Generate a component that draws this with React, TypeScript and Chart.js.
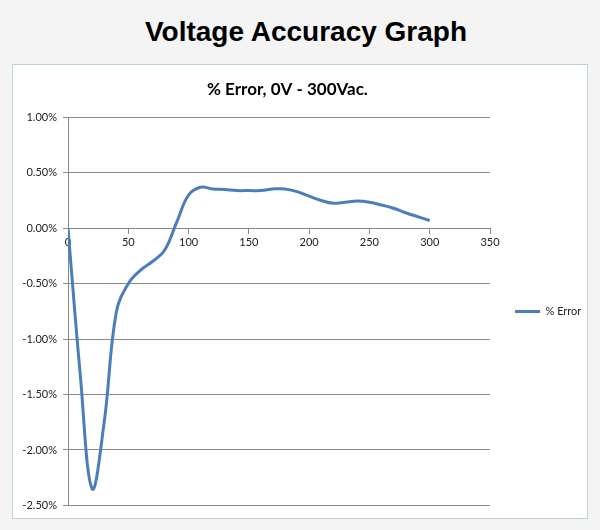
import { useEffect, useRef } from 'react';
import { Chart, registerables } from 'chart.js';

Chart.register(...registerables);

// volts vs % error
const voltage = [0, 10, 20, 30, 40, 50, 60, 70, 80, 90, 100, 110, 120, 130, 140, 150, 160, 170, 180, 190, 200, 210, 220, 230, 240, 250, 260, 270, 280, 290, 300];
const percentError = [0, -1.3, -2.35, -1.75, -0.76, -0.5, -0.38, -0.3, -0.2, 0.05, 0.3, 0.37, 0.355, 0.35, 0.34, 0.34, 0.34, 0.355, 0.355, 0.33, 0.29, 0.25, 0.225, 0.235, 0.245, 0.235, 0.21, 0.18, 0.14, 0.105, 0.07];
const seriesName = '% Error';
const chartTitle = '% Error, 0V - 300Vac.';
const pageTitle = 'Voltage Accuracy Graph';

export default function App() {
  const chartRef = useRef<HTMLCanvasElement | null>(null);

  useEffect(() => {
    document.body.style.margin = '0';
    let chart: Chart | null = null;
    const ctx = chartRef.current?.getContext('2d');
    if (ctx) {
      chart = new Chart(ctx, {
        type: 'line',
        data: {
          datasets: [
            {
              label: seriesName,
              data: voltage.map((v, i) => ({ x: v, y: percentError[i] })),
              borderColor: '#4a7ebb',
              backgroundColor: '#4a7ebb',
              borderWidth: 3,
              pointRadius: 0,
              tension: 0.4,
            },
          ],
        },
        options: {
          animation: false,
          responsive: true,
          maintainAspectRatio: false,
          layout: { padding: { left: 8, right: 0, top: 4, bottom: 12 } },
          plugins: {
            title: {
              display: true,
              // trailing spaces nudge the title a bit left, like the original
              text: chartTitle + '        ',
              color: '#000',
              font: { family: 'Lato', size: 17, weight: 'bold' },
              padding: { top: 10, bottom: 18 },
            },
            legend: {
              position: 'right',
              fullSize: false,
              maxWidth: 97,
              labels: {
                boxWidth: 25,
                boxHeight: 0,
                color: '#222',
                font: { family: 'Lato', size: 11 },
                padding: 25,
              },
            },
            tooltip: { enabled: false },
          },
          scales: {
            x: {
              type: 'linear',
              position: { y: 0 },
              min: 0,
              max: 350,
              ticks: { stepSize: 50, color: '#222', font: { family: 'Lato', size: 11 }, padding: 3 },
              grid: { drawOnChartArea: false, drawTicks: true, tickLength: 5, color: '#888' },
              border: { color: '#888' },
            },
            y: {
              min: -2.5,
              max: 1,
              ticks: {
                stepSize: 0.5,
                color: '#222',
                font: { family: 'Lato', size: 11 },
                padding: 6,
                callback: (v) => Number(v).toFixed(2) + '%',
              },
              grid: { color: '#8c8c8c', tickLength: 5 },
              border: { color: '#888' },
              afterFit: (scale) => {
                scale.width = 47;
              },
            },
          },
        },
      });
    }
    return () => {
      if (chart) chart.destroy();
    };
  }, []);

  return (
    <div style={{ position: 'relative', width: 600, height: 530, background: '#f4f4f4', overflow: 'hidden' }}>
      <div
        style={{
          position: 'absolute',
          top: 12,
          left: 0,
          width: 612,
          textAlign: 'center',
          fontFamily: '"Liberation Sans", Arial, sans-serif',
          fontWeight: 'bold',
          fontSize: 28,
          lineHeight: '40px',
          color: '#000',
        }}
      >
        {pageTitle}
      </div>
      <div
        style={{
          position: 'absolute',
          left: 12,
          top: 64,
          width: 574,
          height: 453,
          background: '#fff',
          border: '1px solid #b9d3db',
        }}
      >
        <canvas ref={chartRef}></canvas>
      </div>
    </div>
  );
}
